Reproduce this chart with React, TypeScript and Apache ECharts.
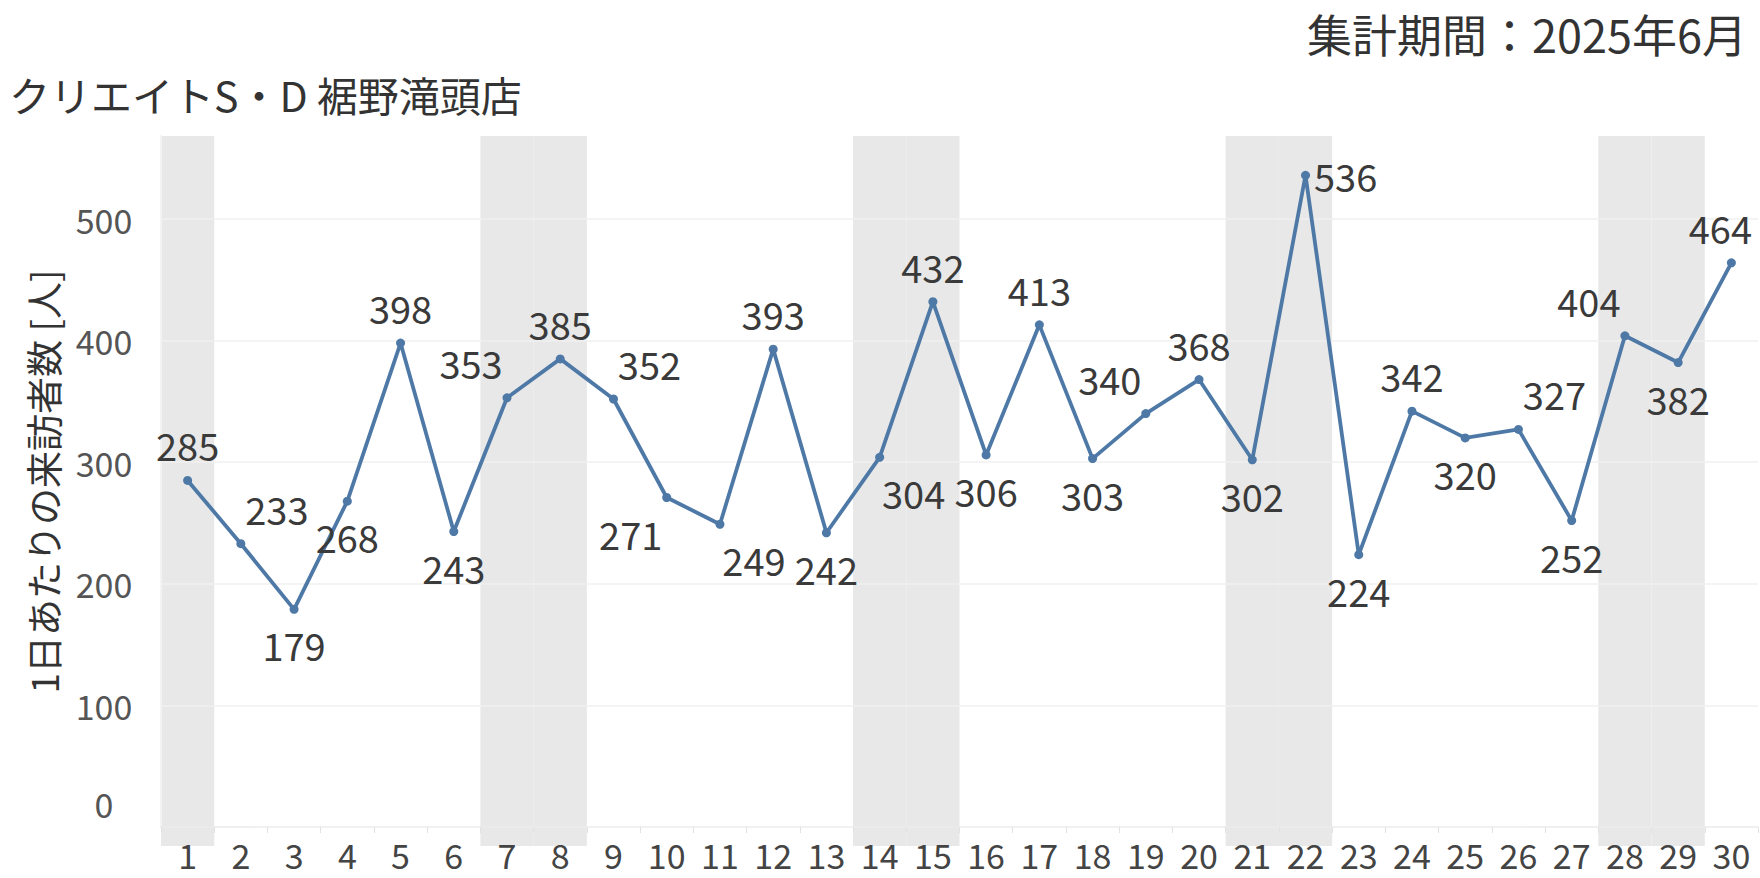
import React, { useEffect, useRef } from "react";
import * as echarts from "echarts";

const days = Array.from({ length: 30 }, (_, i) => String(i + 1));
const visitors = [
  285, 233, 179, 268, 398, 243, 353, 385, 352, 271,
  249, 393, 242, 304, 432, 306, 413, 303, 340, 368,
  302, 536, 224, 342, 320, 327, 252, 404, 382, 464,
];
const weekendDays = ["1", "7", "8", "14", "15", "21", "22", "28", "29"];
const labelSpots = [
  "t", "tr", "b", "b", "t", "b", "tl", "t", "tr", "bl",
  "br", "t", "b", "br", "t", "b", "t", "b", "tl", "t",
  "b", "r", "b", "t", "b", "tr", "b", "tl", "b", "te",
];
const titleText = "クリエイトS・D 裾野滝頭店";
const periodText = "集計期間：2025年6月";
const yName = "1日あたりの来訪者数 [人]";

const FONT = "'Noto Sans CJK JP', 'Noto Sans', sans-serif";

function spotLabel(spot: string) {
  const base = { show: true, distance: 12 } as any;
  switch (spot) {
    case "t": return { ...base, position: "top" };
    case "b": return { ...base, position: "bottom" };
    case "tr": return { ...base, position: "top", offset: [36, 0] };
    case "tl": return { ...base, position: "top", offset: [-36, 0] };
    case "br": return { ...base, position: "bottom", offset: [34, 0] };
    case "bl": return { ...base, position: "bottom", offset: [-36, 0] };
    case "r": return { ...base, position: "right", distance: 4 };
    case "te": return { ...base, position: "top", offset: [-11, 0] };
    default: return base;
  }
}

export default function App() {
  const ref = useRef<HTMLDivElement>(null);
  useEffect(() => {
    if (!ref.current) return;
    const chart = echarts.init(ref.current, null, { renderer: "svg" });
    const option: any = {
      animation: false,
      backgroundColor: "#ffffff",
      textStyle: { fontFamily: FONT },
      title: [
        {
          text: titleText,
          left: 4,
          top: 68,
          textStyle: { fontSize: 41, fontWeight: "normal", color: "#333333", fontFamily: FONT },
        },
        {
          text: periodText,
          right: 8,
          top: 6,
          textStyle: { fontSize: 45, fontWeight: "normal", color: "#333333", fontFamily: FONT },
        },
      ],
      grid: [
        { left: 161, right: 2, top: 136, bottom: 51 },
        { left: 161, right: 2, top: 136, bottom: 32 },
      ],
      xAxis: [
        {
          type: "category",
          gridIndex: 0,
          data: days,
          boundaryGap: true,
          z: 3,
          axisLine: { show: true, lineStyle: { color: "#ececec", width: 1.5 } },
          axisTick: { show: true, interval: 0, length: 6, lineStyle: { color: "#e2e2e2" } },
          axisLabel: {
            interval: 0,
            fontSize: 34,
            lineHeight: 34,
            color: "#444444",
            margin: 10,
            fontFamily: FONT,
          },
          splitLine: { show: false },
        },
        {
          type: "category",
          gridIndex: 1,
          data: days,
          show: false,
        },
      ],
      yAxis: [
        {
          type: "value",
          gridIndex: 0,
          min: 0,
          max: 568.3,
          interval: 100,
          z: 3,
          name: yName,
          nameLocation: "middle",
          nameGap: 100,
          nameTextStyle: { fontSize: 37, color: "#333333", fontFamily: FONT },
          axisLine: { show: true, lineStyle: { color: "#f3f3f3", width: 2 } },
          axisTick: { show: false },
          axisLabel: {
            fontSize: 34,
            color: "#555555",
            margin: 57,
            align: "center",
            showMaxLabel: false,
            fontFamily: FONT,
            formatter: (v: number) => (v === 0 ? "{z|0}" : String(v)),
            rich: {
              z: { fontSize: 34, color: "#555555", fontFamily: FONT, padding: [0, 0, 48, 0] },
            },
          },
          splitLine: {
            show: true,
            showMinLine: false,
            showMaxLine: false,
            lineStyle: { color: "#f0f0f0", width: 1.5 },
          },
        },
        {
          type: "value",
          gridIndex: 1,
          min: 0,
          max: 1,
          show: false,
          splitLine: { show: false },
        },
      ],
      series: [
        {
          type: "bar",
          xAxisIndex: 1,
          yAxisIndex: 1,
          z: 0,
          barCategoryGap: "0%",
          barGap: "0%",
          silent: true,
          itemStyle: { color: "#e8e8e8" },
          data: days.map((d) => (weekendDays.includes(d) ? 1 : 0)),
        },
        {
          type: "line",
          xAxisIndex: 0,
          yAxisIndex: 0,
          z: 5,
          symbol: "circle",
          symbolSize: 9,
          clip: false,
          itemStyle: { color: "#4e79a7" },
          lineStyle: { color: "#4e79a7", width: 3.8 },
          label: {
            show: true,
            fontSize: 38,
            color: "#3a3a3a",
            fontFamily: FONT,
          },
          data: visitors.map((v, i) => ({
            value: v,
            label: spotLabel(labelSpots[i]),
          })),
        },
      ],
    };
    chart.setOption(option);
    return () => chart.dispose();
  }, []);
  return (
    <div
      ref={ref}
      style={{ position: "fixed", left: 0, top: 0, width: 1760, height: 878 }}
    />
  );
}
